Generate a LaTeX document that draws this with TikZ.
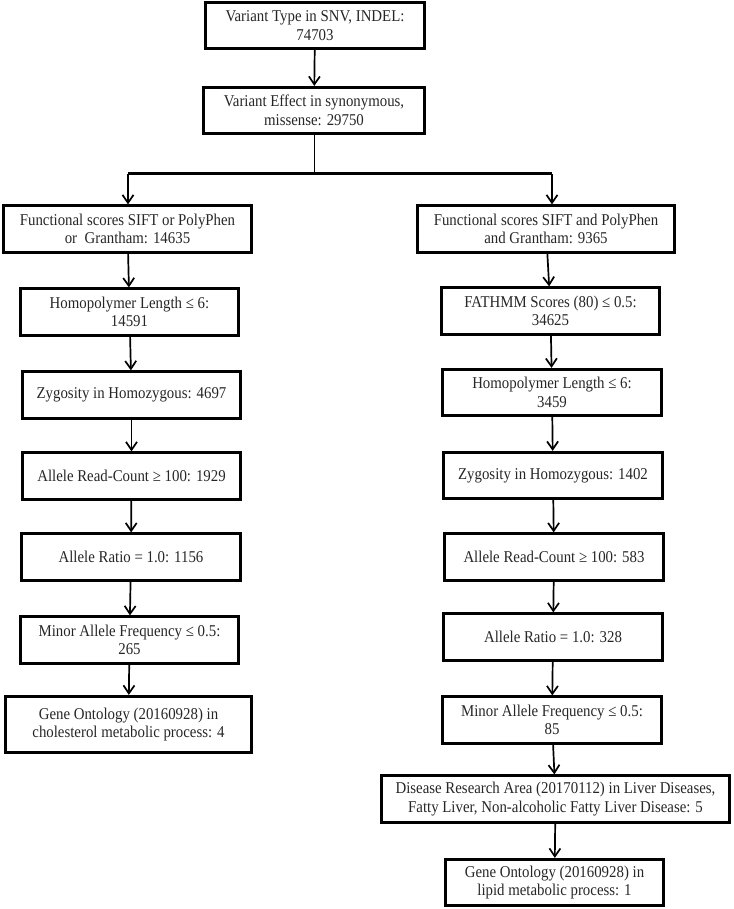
\documentclass[tikz,border=0pt]{standalone}
\usepackage{fontspec}
\setmainfont{Liberation Serif}[FakeStretch=0.9]
\usetikzlibrary{arrows.meta}

\begin{document}
\begin{tikzpicture}[x=1pt, y=-1pt,
    box/.style={draw, line width=2.7pt, align=center, inner sep=1pt,
        minimum height=46.5pt, text=black!85, font=\fontsize{16.5}{18.5}\selectfont},
    link/.style={line width=1.7pt, -{Straight Barb[length=8pt,width=11pt,line width=1.7pt]}}]
    \useasboundingbox (0,0) rectangle (733,909);

    \node[box, minimum width=219.5pt] (type) at (315,25.5) {Variant Type in SNV, INDEL:\\74703};
    \node[box, minimum width=220.5pt] (effect) at (314,110.5) {Variant Effect in synonymous,\\missense: 29750};

    % Split
    \coordinate (split) at (314,174);
    \coordinate (splitL) at (128,174);
    \coordinate (splitR) at (552,174);

    % Left branch
    \node[box, minimum width=248.5pt] (scoreL) at (127.5,229) {Functional scores SIFT or PolyPhen\\or~~Grantham: 14635};
    \node[box, minimum width=218.5pt] (homL) at (129.5,312) {Homopolymer Length ≤ 6:\\14591};
    \node[box, minimum width=218.5pt] (zygL) at (131.5,395) {Zygosity in Homozygous: 4697};
    \node[box, minimum width=218.5pt] (countL) at (131.5,476) {Allele Read-Count ≥ 100: 1929};
    \node[box, minimum width=219.5pt] (ratioL) at (131,557) {Allele Ratio = 1.0: 1156};
    \node[box, minimum width=218.5pt] (mafL) at (129.5,640) {Minor Allele Frequency ≤ 0.5:\\265};
    \node[box, minimum width=246.5pt, minimum height=56.5pt] (goL) at (128.5,724.5) {Gene Ontology (20160928) in\\cholesterol metabolic process: 4};

    % Right branch
    \node[box, minimum width=257.5pt] (scoreR) at (546,229) {Functional scores SIFT and PolyPhen\\and Grantham: 9365};
    \node[box, minimum width=218.5pt] (fathR) at (550.5,311) {FATHMM Scores (80) ≤ 0.5:\\34625};
    \node[box, minimum width=219.5pt] (homR) at (552,392.5) {Homopolymer Length ≤ 6:\\3459};
    \node[box, minimum width=219.5pt] (zygR) at (553,475.5) {Zygosity in Homozygous: 1402};
    \node[box, minimum width=219.5pt] (countR) at (554,557) {Allele Read-Count ≥ 100: 583};
    \node[box, minimum width=219.5pt] (ratioR) at (553,637) {Allele Ratio = 1.0: 328};
    \node[box, minimum width=219.5pt] (mafR) at (552,720) {Minor Allele Frequency ≤ 0.5:\\85};
    \node[box, minimum width=348.5pt] (disR) at (555.5,799) {Disease Research Area (20170112) in Liver Diseases,\\Fatty Liver, Non-alcoholic Fatty Liver Disease: 5};
    \node[box, minimum width=218.5pt] (goR) at (554.5,882.5) {Gene Ontology (20160928) in\\lipid metabolic process: 1};

    % Connectors
    \draw[link] (type) -- (effect);
    \draw[line width=0.8pt] (effect.south) -- (split);
    \draw[line width=3pt] (splitL) -- (splitR);
    \draw[link] (splitL) -- (splitL |- scoreL.north);
    \draw[link] (splitR) -- (splitR |- scoreR.north);

    \draw[link] (scoreL) -- (homL);
    \draw[link] (homL) -- (zygL);
    \draw[link] (zygL) -- (countL);
    \draw[link] (countL) -- (ratioL);
    \draw[link] (ratioL) -- (mafL);
    \draw[link] (mafL) -- (goL);

    \draw[link] (scoreR) -- (fathR);
    \draw[link] (fathR) -- (homR);
    \draw[link] (homR) -- (zygR);
    \draw[link] (zygR) -- (countR);
    \draw[link] (countR) -- (ratioR);
    \draw[link] (ratioR) -- (mafR);
    \draw[link] (mafR) -- (disR);
    \draw[link] (disR) -- (goR);
\end{tikzpicture}
\end{document}
